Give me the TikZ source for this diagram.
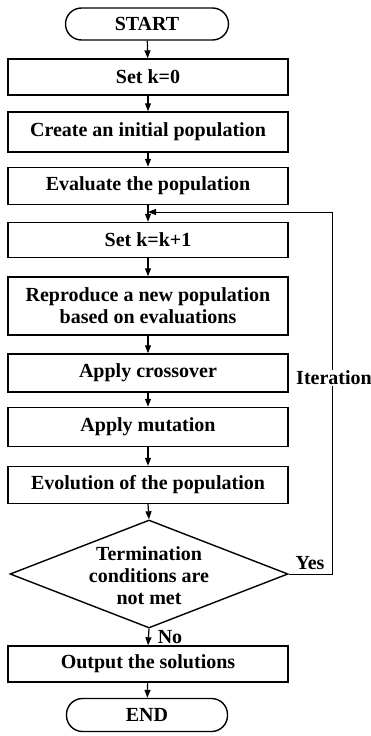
\documentclass[tikz,border=0pt]{standalone}
\usepackage{fontspec}
\setmainfont{Liberation Serif}
\usetikzlibrary{shapes.geometric,arrows.meta}
\begin{document}
\begin{tikzpicture}[x=1pt,y=-1pt,
  every node/.style={font=\fontsize{20}{22}\selectfont\bfseries},
  box/.style={draw,line width=1.4pt,minimum width=280pt,inner sep=0pt,align=center},
  term/.style={draw,line width=1.4pt,rounded corners=16pt,minimum width=163pt,minimum height=32pt,inner sep=0pt},
  decision/.style={draw,diamond,line width=1.4pt,minimum width=278pt,minimum height=108pt,aspect=2.574,inner sep=0pt},
  arr/.style={line width=1.2pt,-{Triangle[length=8pt,width=6pt]}},
  looparr/.style={line width=0.9pt,-{Triangle[length=8pt,width=6pt]}},
  lbl/.style={inner sep=1pt}]
\useasboundingbox (0,0) rectangle (371,736);

\node[term] (start) at (147,24) {START};
\node[box,minimum height=36pt] (k0) at (148,77) {Set k=0};
\node[box,minimum height=40pt] (create) at (148,132) {Create an initial population};
\node[box,minimum height=37pt] (eval) at (148,186) {Evaluate the population};
\node[box,minimum height=35pt] (kk) at (148,240) {Set k=k+1};
\node[box,minimum height=58pt] (repro) at (148,306) {Reproduce a new population\\based on evaluations};
\node[box,minimum height=38pt] (cross) at (148,373) {Apply crossover};
\node[box,minimum height=39pt] (mut) at (148,427) {Apply mutation};
\node[box,minimum height=37pt] (evo) at (148,485) {Evolution of the population};
\node[decision] (dia) at (149,574) {};
\node[align=center,inner sep=0pt] (diatext) at (149,576) {Termination\\conditions are\\not met};
\node[box,minimum height=36pt] (out) at (148,664) {Output the solutions};
\node[term,minimum width=161pt,minimum height=33pt] (end) at (147,715) {END};

\coordinate (join) at (148,212);
\coordinate (loopTop) at (332,212);

\draw[arr] (start) -- (k0);
\draw[arr] (k0) -- (create);
\draw[arr] (create) -- (eval);
\draw[arr] (eval) -- (kk);
\draw[arr] (kk) -- (repro);
\draw[arr] (repro) -- (cross);
\draw[arr] (cross) -- (mut);
\draw[arr] (mut) -- (evo);
\draw[arr] (evo.south) -- (dia.north);
\draw[arr] (dia.south) -- (out.north);
\draw[arr] (out) -- (end);

\draw[looparr] (dia.east) -| (loopTop) -- (join);

\node[fill=white,inner sep=1pt] (iter) at (334,378) {Iteration};
\node[lbl] (yes) at (310,563) {Yes};
\node[lbl] (no) at (170,637) {No};
\end{tikzpicture}
\end{document}
